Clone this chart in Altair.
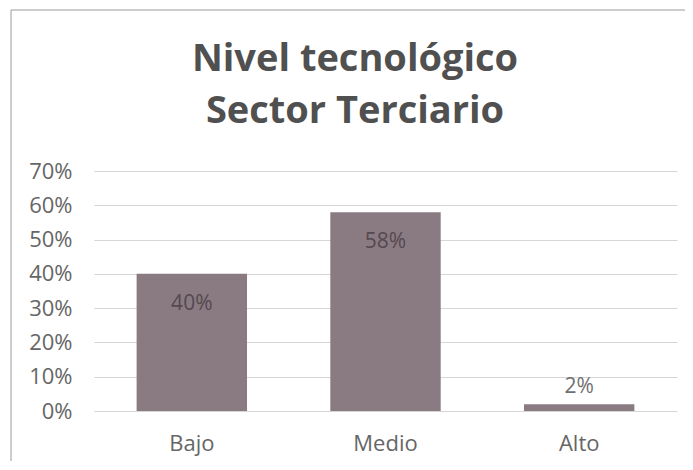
import altair as alt
import pandas as pd

# ---- data ----
CATEGORIES = ["Bajo", "Medio", "Alto"]
SHARES = [0.40, 0.58, 0.02]
Y_TICKS = [0.0, 0.1, 0.2, 0.3, 0.4, 0.5, 0.6, 0.7]
TITLE_LINES = ["Nivel tecnológico", "Sector Terciario"]
INSIDE_MIN = 0.10

df = pd.DataFrame({"nivel": CATEGORIES, "share": SHARES})
base = alt.Chart(df)

AXIS_GREY = "#666666"
FONT = "Open Sans"

x = alt.X(
    "nivel:N",
    sort=CATEGORIES,
    scale=alt.Scale(paddingInner=0.43, paddingOuter=0.22),
    axis=alt.Axis(
        title=None, labelAngle=0, domain=False, ticks=False,
        labelPadding=22, labelFontSize=22, labelColor=AXIS_GREY, labelFont=FONT,
    ),
)
y = alt.Y(
    "share:Q",
    scale=alt.Scale(domain=[0, 0.7], nice=False),
    axis=alt.Axis(
        title=None, values=Y_TICKS, format=".0%", domain=False, ticks=False,
        labelPadding=22, labelFontSize=22, labelColor=AXIS_GREY, labelFont=FONT,
        gridColor="#d6d6d6", gridWidth=1,
    ),
)

frame = alt.Chart(pd.DataFrame({"a": [0]})).mark_rect(
    fillOpacity=0, stroke="#9a9a9a", strokeWidth=1
).encode(
    x=alt.value(-83), x2=alt.value(700), y=alt.value(-161), y2=alt.value(400)
)

bars = base.mark_bar(color="#8a7b82").encode(x=x, y=y)

inside = base.transform_filter(alt.datum.share >= INSIDE_MIN).mark_text(
    dy=30, fontSize=21, font=FONT, color="#55484f", baseline="middle"
).encode(x=x, y=y, text=alt.Text("share:Q", format=".0%"))

outside = base.transform_filter(alt.datum.share < INSIDE_MIN).mark_text(
    dy=-17, fontSize=21, font=FONT, color="#707070", baseline="middle"
).encode(x=x, y=y, text=alt.Text("share:Q", format=".0%"))

title = alt.Chart(pd.DataFrame({"t": ["\n".join(TITLE_LINES)]})).mark_text(
    lineBreak="\n", fontSize=38, fontWeight="bold", font=FONT,
    color="#505050", baseline="alphabetic", align="center", lineHeight=52,
).encode(x=alt.value(261), y=alt.value(-100), text="t:N")

chart = alt.layer(frame, bars, inside, outside, title).properties(
    width=583,
    height=240,
    padding={"left": 86, "top": 163, "right": 8, "bottom": 50},
    autosize=alt.AutoSizeParams(type="none"),
    background="white",
).configure_view(strokeOpacity=0)

chart.save("out.html", embed_options={"renderer": "svg", "actions": False})
